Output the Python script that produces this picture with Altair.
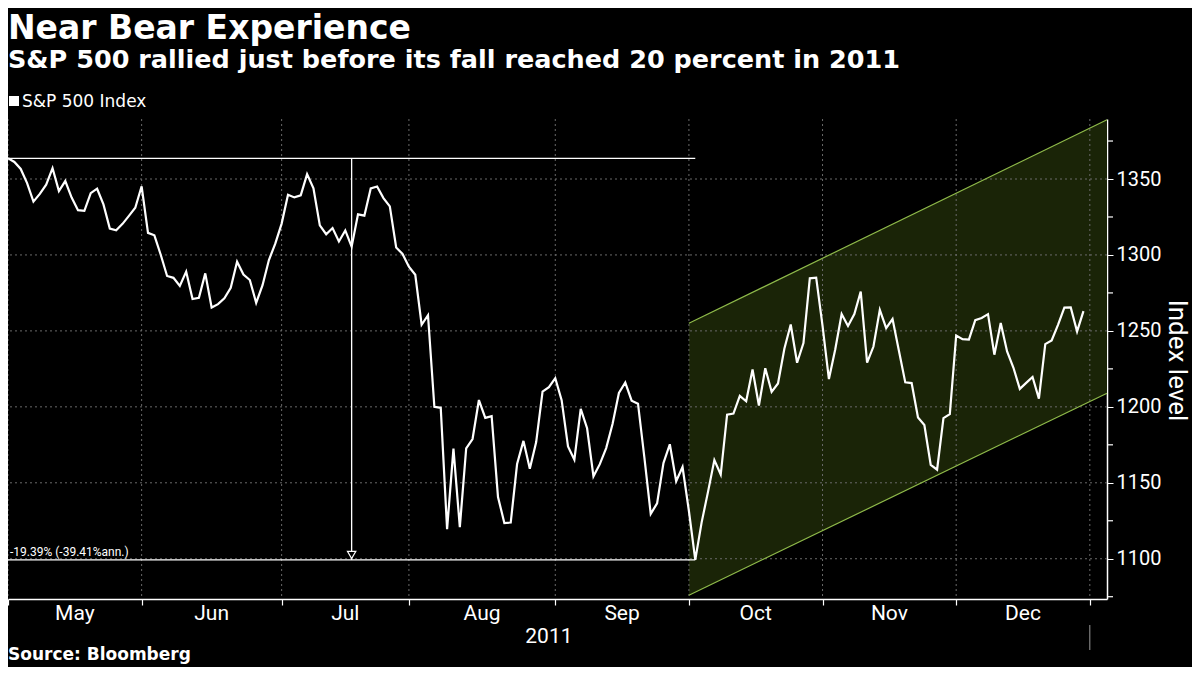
import altair as alt
import pandas as pd

# ---------------- data ----------------
dates = [
    "2011-04-29",
    "2011-05-02", "2011-05-03", "2011-05-04", "2011-05-05", "2011-05-06", "2011-05-09", "2011-05-10",
    "2011-05-11", "2011-05-12", "2011-05-13", "2011-05-16", "2011-05-17", "2011-05-18", "2011-05-19",
    "2011-05-20", "2011-05-23", "2011-05-24", "2011-05-25", "2011-05-26", "2011-05-27", "2011-05-31",
    "2011-06-01", "2011-06-02", "2011-06-03", "2011-06-06", "2011-06-07", "2011-06-08", "2011-06-09",
    "2011-06-10", "2011-06-13", "2011-06-14", "2011-06-15", "2011-06-16", "2011-06-17", "2011-06-20",
    "2011-06-21", "2011-06-22", "2011-06-23", "2011-06-24", "2011-06-27", "2011-06-28", "2011-06-29",
    "2011-06-30",
    "2011-07-01", "2011-07-05", "2011-07-06", "2011-07-07", "2011-07-08", "2011-07-11", "2011-07-12",
    "2011-07-13", "2011-07-14", "2011-07-15", "2011-07-18", "2011-07-19", "2011-07-20", "2011-07-21",
    "2011-07-22", "2011-07-25", "2011-07-26", "2011-07-27", "2011-07-28", "2011-07-29",
    "2011-08-01", "2011-08-02", "2011-08-03", "2011-08-04", "2011-08-05", "2011-08-08", "2011-08-09",
    "2011-08-10", "2011-08-11", "2011-08-12", "2011-08-15", "2011-08-16", "2011-08-17", "2011-08-18",
    "2011-08-19", "2011-08-22", "2011-08-23", "2011-08-24", "2011-08-25", "2011-08-26", "2011-08-29",
    "2011-08-30", "2011-08-31",
    "2011-09-01", "2011-09-02", "2011-09-06", "2011-09-07", "2011-09-08", "2011-09-09", "2011-09-12",
    "2011-09-13", "2011-09-14", "2011-09-15", "2011-09-16", "2011-09-19", "2011-09-20", "2011-09-21",
    "2011-09-22", "2011-09-23", "2011-09-26", "2011-09-27", "2011-09-28", "2011-09-29", "2011-09-30",
    "2011-10-03", "2011-10-04", "2011-10-05", "2011-10-06", "2011-10-07", "2011-10-10", "2011-10-11",
    "2011-10-12", "2011-10-13", "2011-10-14", "2011-10-17", "2011-10-18", "2011-10-19", "2011-10-20",
    "2011-10-21", "2011-10-24", "2011-10-25", "2011-10-26", "2011-10-27", "2011-10-28", "2011-10-31",
    "2011-11-01", "2011-11-02", "2011-11-03", "2011-11-04", "2011-11-07", "2011-11-08", "2011-11-09",
    "2011-11-10", "2011-11-11", "2011-11-14", "2011-11-15", "2011-11-16", "2011-11-17", "2011-11-18",
    "2011-11-21", "2011-11-22", "2011-11-23", "2011-11-25", "2011-11-28", "2011-11-29", "2011-11-30",
    "2011-12-01", "2011-12-02", "2011-12-05", "2011-12-06", "2011-12-07", "2011-12-08", "2011-12-09",
    "2011-12-12", "2011-12-13", "2011-12-14", "2011-12-15", "2011-12-16", "2011-12-19", "2011-12-20",
    "2011-12-21", "2011-12-22", "2011-12-23", "2011-12-27", "2011-12-28", "2011-12-29",
]

closes = [
    1363.61,
    1361.22, 1356.62, 1347.32, 1335.10, 1340.20, 1346.29, 1357.16, 1342.08, 1348.65, 1337.77,
    1329.47, 1328.98, 1340.68, 1343.60, 1333.27, 1317.37, 1316.28, 1320.47, 1325.69, 1331.10, 1345.20,
    1314.55, 1312.94, 1300.16, 1286.17, 1284.94, 1279.56, 1289.00, 1270.98, 1271.83, 1287.87,
    1265.42, 1267.64, 1271.50, 1278.36, 1295.52, 1287.14, 1283.50, 1268.45, 1280.10, 1296.67,
    1307.41, 1320.64,
    1339.67, 1337.88, 1339.22, 1353.22, 1343.80, 1319.49, 1313.64, 1317.72, 1308.87, 1316.14,
    1305.44, 1326.73, 1325.84, 1343.80, 1345.02, 1337.43, 1331.94, 1304.89, 1300.67, 1292.28,
    1286.94, 1254.05, 1260.34, 1200.07, 1199.38, 1119.46, 1172.53, 1120.76, 1172.64, 1178.81,
    1204.49, 1192.76, 1193.89, 1140.65, 1123.53, 1123.82, 1162.35, 1177.60, 1159.27, 1176.80,
    1210.08, 1212.92, 1218.89,
    1204.42, 1173.97, 1165.24, 1198.62, 1185.90, 1154.23, 1162.27, 1172.87, 1188.68, 1209.11,
    1216.01, 1204.09, 1202.09, 1166.76, 1129.56, 1136.43, 1162.95, 1175.38, 1151.06, 1160.40, 1131.42,
    1099.23, 1123.95, 1144.03, 1164.97, 1155.46, 1194.89, 1195.54, 1207.25, 1203.66, 1224.58,
    1200.86, 1225.38, 1209.88, 1215.39, 1238.25, 1254.19, 1229.05, 1242.00, 1284.59, 1285.09, 1253.30,
    1218.28, 1237.90, 1261.15, 1253.23, 1261.12, 1275.92, 1229.10, 1239.69, 1263.85, 1251.78,
    1257.81, 1236.91, 1216.13, 1215.65, 1192.98, 1188.04, 1161.79, 1158.67, 1192.55, 1195.19, 1246.96,
    1244.58, 1244.28, 1257.08, 1258.47, 1261.01, 1234.35, 1255.19, 1236.47, 1225.73, 1211.82,
    1215.75, 1219.66, 1205.35, 1241.30, 1243.72, 1254.00, 1265.33, 1265.43, 1249.64, 1263.02,
]

# trading-day index of the last session of each month (Apr .. Dec)
month_ends = [0, 21, 43, 63, 86, 107, 128, 149, 170]
month_names = ["May", "Jun", "Jul", "Aug", "Sep", "Oct", "Nov", "Dec"]
year_label = "2011"

y_major = [1100, 1150, 1200, 1250, 1300, 1350]
y_minor = [1075, 1125, 1175, 1225, 1275, 1325, 1375]

# trend channel drawn by the analyst
channel_idx = [107, 172.7]
channel_upper = [1255, 1389]
channel_lower = [1076, 1209]

# peak-to-trough measurement
peak_idx, peak_val = 0, 1363.61
trough_idx, trough_val = 108, 1099.23
drop_label = "-19.39% (-39.41%ann.)"

# ---------------- frames ----------------
df = pd.DataFrame({"date": dates, "i": list(range(len(closes))), "close": closes})
grid_x = pd.DataFrame({"i": month_ends})
grid_y = pd.DataFrame({"v": y_major})
minor_y = pd.DataFrame({"v": y_minor})
chan = pd.DataFrame({"i": channel_idx, "up": channel_upper, "lo": channel_lower})
months = pd.DataFrame({
    "m": month_names,
    "i": [(month_ends[k] + month_ends[k + 1]) / 2 for k in range(len(month_names))],
})
meas = pd.DataFrame({"x0": [peak_idx], "x1": [trough_idx], "xm": [(peak_idx + trough_idx) / 2],
                     "peak": [peak_val], "trough": [trough_val], "lab": [drop_label]})
one = pd.DataFrame({"a": [0]})

W, H = 1099, 480
XD = [0, 172.7]
YD = [1073.5, 1389.5]
LABEL_FONT = "Roboto"
TITLE_FONT = "DejaVu Sans"
GRID = "#6a6a6a"

xs = alt.Scale(domain=XD, nice=False, zero=False)
ys = alt.Scale(domain=YD, nice=False, zero=False)

x_axis = alt.Axis(values=month_ends, labels=False, title=None, grid=False, tickSize=6,
                  tickColor="#ffffff", domainColor="#ffffff", domainWidth=1.5, tickWidth=1.2)
y_axis = alt.Axis(orient="right", values=y_major, format="d", labelOverlap=False,
                  grid=False, tickSize=6, tickColor="#ffffff", domainColor="#ffffff",
                  domainWidth=1.5, labelColor="#ffffff", labelFont=LABEL_FONT, labelFontSize=20,
                  labelPadding=3, title="Index level", titleAngle=90, titleColor="#ffffff",
                  titleFont=LABEL_FONT, titleFontSize=26, titleFontWeight="normal",
                  titleX=61, titleY=241, titleAlign="center", titleBaseline="alphabetic")

X = lambda f: alt.X(f, scale=xs)
Y = lambda f: alt.Y(f, scale=ys)

area = alt.Chart(chan).mark_area(color="#1a2407").encode(
    x=alt.X("i:Q", scale=xs, axis=x_axis),
    y=alt.Y("up:Q", scale=ys, axis=y_axis),
    y2="lo:Q",
)
chan_up = alt.Chart(chan).mark_line(color="#8fba4a", strokeWidth=1.2).encode(x=X("i:Q"), y=Y("up:Q"))
chan_lo = alt.Chart(chan).mark_line(color="#8fba4a", strokeWidth=1.2).encode(x=X("i:Q"), y=Y("lo:Q"))

vgrid = alt.Chart(grid_x).mark_rule(color=GRID, strokeDash=[2, 3], strokeWidth=1).encode(x=X("i:Q"))
hgrid = alt.Chart(grid_y).mark_rule(color=GRID, strokeDash=[2, 3], strokeWidth=1).encode(y=Y("v:Q"))
minor_ticks = alt.Chart(minor_y).mark_rule(color="#ffffff", strokeWidth=1.2).encode(
    y=Y("v:Q"), x=alt.value(W), x2=alt.value(W + 6))

peak_rule = alt.Chart(meas).mark_rule(color="#ffffff", strokeWidth=1.3).encode(
    x=X("x0:Q"), x2="x1:Q", y=Y("peak:Q"))
trough_rule = alt.Chart(meas).mark_rule(color="#ffffff", strokeWidth=1.3).encode(
    x=X("x0:Q"), x2="x1:Q", y=Y("trough:Q"))
vert_rule = alt.Chart(meas).mark_rule(color="#ffffff", strokeWidth=1.3).encode(
    x=X("xm:Q"), y=Y("peak:Q"), y2="trough:Q")
arrow = alt.Chart(meas).mark_point(shape="triangle-down", size=70, filled=True, fill="#000000",
                                   stroke="#ffffff", strokeWidth=1.2, opacity=1, yOffset=-5).encode(
    x=X("xm:Q"), y=Y("trough:Q"))
drop_text = alt.Chart(meas).mark_text(align="left", baseline="bottom", dx=2, dy=-1,
                                      color="#ffffff", font=LABEL_FONT, fontSize=12).encode(
    x=X("x0:Q"), y=Y("trough:Q"), text="lab:N")

line = alt.Chart(df).mark_line(color="#ffffff", strokeWidth=2.2).encode(x=X("i:Q"), y=Y("close:Q"))

month_text = alt.Chart(months).mark_text(color="#ffffff", font=LABEL_FONT, fontSize=21,
                                         baseline="middle").encode(
    x=X("i:Q"), y=alt.value(H + 15), text="m:N")
year_text = alt.Chart(pd.DataFrame({"i": [(month_ends[0] + month_ends[-1]) / 2], "t": [year_label]})).mark_text(
    color="#ffffff", font=LABEL_FONT, fontSize=21, baseline="middle").encode(
    x=X("i:Q"), y=alt.value(H + 38), text="t:N")
year_sep = alt.Chart(pd.DataFrame({"i": [month_ends[-1]]})).mark_rule(color="#9a9a9a", strokeWidth=1).encode(
    x=X("i:Q"), y=alt.value(H + 26), y2=alt.value(H + 51))

title = alt.Chart(one).mark_text(align="left", baseline="alphabetic", color="#ffffff",
                                 font=TITLE_FONT, fontWeight="bold", fontSize=33,
                                 text="Near Bear Experience").encode(x=alt.value(0), y=alt.value(-80))
subtitle = alt.Chart(one).mark_text(align="left", baseline="alphabetic", color="#ffffff",
                                    font=TITLE_FONT, fontWeight="bold", fontSize=25.5,
                                    text="S&P 500 rallied just before its fall reached 20 percent in 2011").encode(
    x=alt.value(0), y=alt.value(-51))
leg_sq = alt.Chart(one).mark_square(color="#ffffff", size=100, opacity=1).encode(
    x=alt.value(6), y=alt.value(-18))
leg_txt = alt.Chart(one).mark_text(align="left", baseline="alphabetic", color="#ffffff",
                                   font="DejaVu Sans", fontSize=17, text="S&P 500 Index").encode(
    x=alt.value(14), y=alt.value(-12))
source = alt.Chart(one).mark_text(align="left", baseline="alphabetic", color="#ffffff",
                                  font=TITLE_FONT, fontWeight="bold", fontSize=17,
                                  text="Source: Bloomberg").encode(x=alt.value(0), y=alt.value(H + 61))

chart = alt.layer(
    area, vgrid, hgrid, chan_up, chan_lo, minor_ticks, peak_rule, trough_rule, vert_rule, line, arrow,
    drop_text, month_text, year_text, year_sep, title, subtitle, leg_sq, leg_txt, source,
).properties(
    width=W, height=H,
    autosize=alt.AutoSizeParams(type="none"),
    padding={"left": 0, "top": 111, "right": 85, "bottom": 68},
    background="#000000",
).configure_view(stroke=None).configure_axis(labelOverlap=False, labelColor="#ffffff",
                                             labelFont=LABEL_FONT, labelFontSize=20)

chart.save("out.html", embed_options={"renderer": "svg", "actions": False})
